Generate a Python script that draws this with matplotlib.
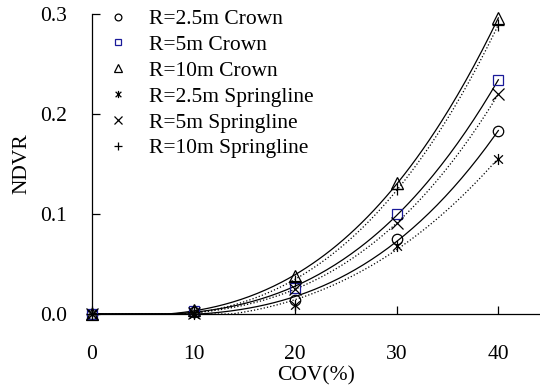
import numpy as np
import matplotlib
matplotlib.use("Agg")
import matplotlib.pyplot as plt
from matplotlib.path import Path

plt.rcParams['font.family'] = ['Liberation Serif', 'DejaVu Serif']

cov = [0, 10, 20, 30, 40]
crown_2_5 = [0.0, 0.002, 0.014, 0.075, 0.183]
crown_5 = [0.0, 0.003, 0.026, 0.100, 0.234]
crown_10 = [0.0, 0.004, 0.038, 0.131, 0.296]
spring_2_5 = [0.0, 0.000, 0.009, 0.068, 0.155]
spring_5 = [0.0, 0.001, 0.025, 0.091, 0.220]
spring_10 = [0.0, 0.002, 0.033, 0.125, 0.289]

labels = ["R=2.5m Crown", "R=5m Crown", "R=10m Crown",
          "R=2.5m Springline", "R=5m Springline", "R=10m Springline"]
series = [crown_2_5, crown_5, crown_10, spring_2_5, spring_5, spring_10]

star = Path([(0, 1), (0, -1), (-0.8, 0.75), (0.8, -0.75), (0.8, 0.75), (-0.8, -0.75)],
            [Path.MOVETO, Path.LINETO, Path.MOVETO, Path.LINETO, Path.MOVETO, Path.LINETO])
markers = ['o', 's', '^', star, 'x', '+']
msizes = [7.5, 7.0, 8.5, 8.0, 8.5, 9.0]
mcolors = ['black', '#1a1a99', 'black', 'black', 'black', 'black']
lstyles = ['-', '-', '-', ':', ':', ':']

fig = plt.figure(figsize=(5.4, 3.92), dpi=100)
ax = fig.add_axes([0.1704, 0.199, 0.8296, 0.765])

xs = np.linspace(0, 40, 200)
for y, lab, m, ms, c, ls in zip(series, labels, markers, msizes, mcolors, lstyles):
    coef = np.polyfit(cov, y, 3)
    fit = np.maximum(np.polyval(coef, xs), 0)
    ax.plot(xs, fit, color='black', lw=0.9, ls=ls, clip_on=False)
    ax.plot(cov, y, ls='none', marker=m, ms=ms,
            mfc='none', mec=c, mew=0.9, label=lab, clip_on=False, zorder=3)

ax.set_xlim(0, 44.1)
ax.set_ylim(0, 0.3)
ax.set_xticks([0, 10, 20, 30, 40])
ax.set_yticks([0.0, 0.1, 0.2, 0.3])
ax.set_yticklabels(['0.0', '0.1', '0.2', '0.3'])
ax.spines['top'].set_visible(False)
ax.spines['right'].set_visible(False)
for s in ['left', 'bottom']:
    ax.spines[s].set_linewidth(0.9)
ax.tick_params(direction='in', length=6, width=0.9, labelsize=15.5)
ax.tick_params(axis='x', pad=22)
ax.tick_params(axis='y', pad=18)
ax.set_xlabel('COV(%)', fontsize=15.5, labelpad=2)
ax.set_ylabel('NDVR', fontsize=15.5, labelpad=6)

ax.legend(loc='upper left', bbox_to_anchor=(0.0335, 1.017), frameon=False,
          fontsize=15.5, labelspacing=0.27, handlelength=1.0,
          handletextpad=0.95, borderaxespad=0.0, borderpad=0.0,
          markerscale=0.65)

fig.savefig('out.png', dpi=100)
